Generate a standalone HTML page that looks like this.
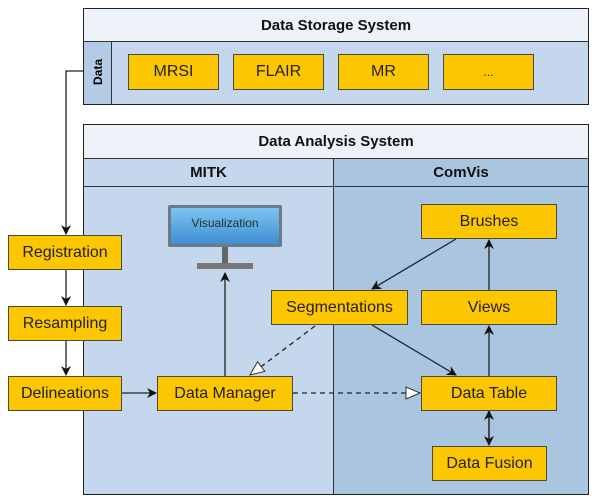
<!DOCTYPE html>
<html><head><style>
body{margin:0;width:592px;height:496px;background:#fff;position:relative;font-family:"Liberation Sans",Arial,sans-serif;overflow:hidden}
.a{position:absolute;box-sizing:border-box}
.y{position:absolute;box-sizing:border-box;background:#fcc600;border:1.5px solid #4a4a3a;display:flex;align-items:center;justify-content:center;font-size:16px;color:#222}
.h{font-weight:bold;font-size:15px;color:#111;display:flex;align-items:center;justify-content:center}
</style></head><body>
<!-- storage -->
<div class="a" style="left:83px;top:8px;width:506px;height:97px;border:1.5px solid #222;background:#c5d7ec"></div>
<div class="a h" style="left:84px;top:9px;width:504px;height:33px;background:#eef3fa;border-bottom:1px solid #333">Data Storage System</div>
<div class="a" style="left:84px;top:42px;width:28px;height:62px;background:#b4cbe5;border-right:1px solid #333"></div>
<div class="a" style="left:84px;top:60px;width:28px;height:24px;display:flex;align-items:center;justify-content:center;transform:rotate(-90deg);font-weight:bold;font-size:12px">Data</div>
<div class="y" style="left:128px;top:54px;width:91px;height:36px">MRSI</div>
<div class="y" style="left:233px;top:54px;width:91px;height:36px">FLAIR</div>
<div class="y" style="left:338px;top:54px;width:91px;height:36px">MR</div>
<div class="y" style="left:443px;top:54px;width:91px;height:36px;font-size:12px">...</div>
<!-- analysis -->
<div class="a" style="left:83px;top:124px;width:506px;height:371px;border:1.5px solid #222;background:#c5d7ec"></div>
<div class="a" style="left:333px;top:159px;width:255px;height:335px;background:#a9c5e0;border-left:1px solid #333"></div>
<div class="a h" style="left:84px;top:125px;width:504px;height:34px;background:#eef3fa;border-bottom:1px solid #333">Data Analysis System</div>
<div class="a h" style="left:84px;top:159px;width:249px;height:28px;border-bottom:1px solid #333">MITK</div>
<div class="a h" style="left:334px;top:159px;width:254px;height:28px;border-bottom:1px solid #333">ComVis</div>
<!-- monitor -->
<div class="a" style="left:168px;top:205px;width:114px;height:42px;background:#6a7a88;border-radius:2px"></div>
<div class="a" style="left:171px;top:208px;width:108px;height:36px;background:linear-gradient(#7cc4f0,#3f8fd4);font-size:12px;color:#233;display:flex;justify-content:center;padding-top:8px">Visualization</div>
<div class="a" style="left:222px;top:247px;width:6px;height:16px;background:#666"></div>
<div class="a" style="left:197px;top:263px;width:56px;height:6px;background:#777"></div>
<svg class="a" style="left:0;top:0" width="592" height="496">
<defs>
<marker id="m" markerWidth="10" markerHeight="10" refX="9" refY="5" orient="auto" markerUnits="userSpaceOnUse"><path d="M0,0 L10,5 L0,10 L3,5z" fill="#111"/></marker>
<marker id="o" markerWidth="16" markerHeight="14" refX="15" refY="7" orient="auto" markerUnits="userSpaceOnUse"><path d="M1,1 L15,7 L1,13z" fill="#fff" stroke="#333"/></marker>
</defs>
<g stroke="#222" stroke-width="1.3" fill="none">
<path d="M83,71 H66 V234" marker-end="url(#m)"/>
<path d="M66,270 V305" marker-end="url(#m)"/>
<path d="M66,340 V375" marker-end="url(#m)"/>
<path d="M122,393 H156" marker-end="url(#m)"/>
<path d="M225,376 V273" marker-end="url(#m)"/>
<path d="M456,239 L372,289" marker-end="url(#m)"/>
<path d="M372,325 L456,375" marker-end="url(#m)"/>
<path d="M489,376 V326" marker-end="url(#m)"/>
<path d="M489,290 V240" marker-end="url(#m)"/>
<path d="M489,411 V445" marker-end="url(#m)"/>
<path d="M489,445 V411" marker-end="url(#m)"/>
<path d="M315,326 L250,375" stroke-dasharray="5,4" marker-end="url(#o)"/>
<path d="M293,393 H420" stroke-dasharray="5,4" marker-end="url(#o)"/>
</g></svg>
<div class="y" style="left:8px;top:235px;width:114px;height:35px">Registration</div>
<div class="y" style="left:8px;top:306px;width:114px;height:35px">Resampling</div>
<div class="y" style="left:8px;top:376px;width:114px;height:35px">Delineations</div>
<div class="y" style="left:157px;top:376px;width:136px;height:35px">Data Manager</div>
<div class="y" style="left:421px;top:204px;width:136px;height:35px">Brushes</div>
<div class="y" style="left:271px;top:290px;width:137px;height:35px">Segmentations</div>
<div class="y" style="left:421px;top:290px;width:136px;height:35px">Views</div>
<div class="y" style="left:421px;top:376px;width:136px;height:35px">Data Table</div>
<div class="y" style="left:432px;top:446px;width:115px;height:35px">Data Fusion</div>
</body></html>
